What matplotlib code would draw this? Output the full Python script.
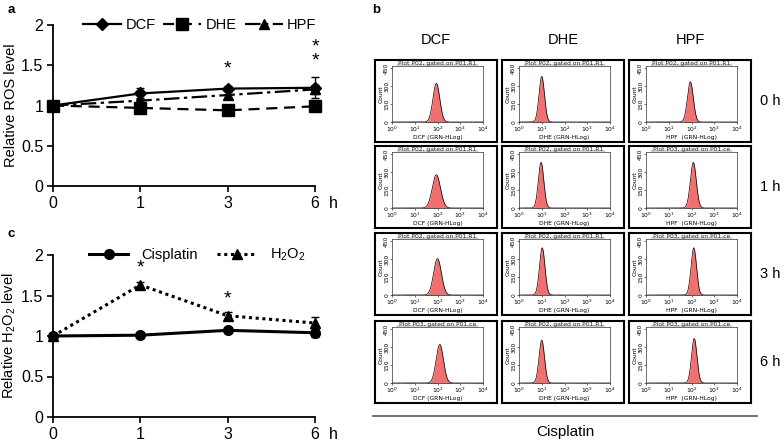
import matplotlib
matplotlib.use("Agg")
import matplotlib.pyplot as plt
from matplotlib.lines import Line2D
import numpy as np

plt.rcParams['font.family'] = ['Liberation Sans', 'DejaVu Sans']
plt.rcParams['mathtext.default'] = 'regular'

# ---- data ----
times = ['0', '1', '3', '6']

dcf = [1.0, 1.15, 1.21, 1.22]
dcf_err = [0.0, 0.07, 0.03, 0.13]
dhe = [1.0, 0.97, 0.94, 0.99]
dhe_err = [0.0, 0.03, 0.02, 0.02]
hpf = [1.0, 1.06, 1.13, 1.20]
hpf_err = [0.0, 0.03, 0.05, 0.06]
stars_a = [(2, 1.45, 1), (3, 1.64, 2)]   # x position, y, number of stars

cis = [1.0, 1.01, 1.07, 1.04]
cis_err = [0.02, 0.03, 0.02, 0.05]
h2o2 = [1.0, 1.63, 1.25, 1.16]
h2o2_err = [0.02, 0.04, 0.05, 0.08]
stars_c = [(1, 1.84, 1), (2, 1.46, 1)]

# flow cytometry panels: rows = time, cols = probe
probes = ['DCF', 'DHE', 'HPF']
row_labels = ['0 h', '1 h', '3 h', '6 h']
peak_log = [[1.95, 1.00, 1.95],
            [1.95, 0.97, 2.08],
            [2.00, 1.02, 2.10],
            [2.10, 1.00, 2.12]]
peak_frac = [[0.72, 0.85, 0.75],
             [0.62, 0.85, 0.85],
             [0.68, 0.88, 0.88],
             [0.72, 0.80, 0.83]]
peak_sd = [[0.15, 0.12, 0.13],
           [0.18, 0.12, 0.13],
           [0.17, 0.12, 0.12],
           [0.16, 0.12, 0.12]]
plot_titles = [['Plot P02, gated on P01.R1', 'Plot P02, gated on P01.R1', 'Plot P02, gated on P01.R1'],
               ['Plot P02, gated on P01.R1', 'Plot P02, gated on P01.R1', 'Plot P03, gated on P01.ce'],
               ['Plot P02, gated on P01.R1', 'Plot P02, gated on P01.R1', 'Plot P03, gated on P01.ce'],
               ['Plot P03, gated on P01.ce', 'Plot P02, gated on P01.R1', 'Plot P03, gated on P01.ce']]
x_labels = ['DCF (GRN-HLog)', 'DHE (GRN-HLog)', 'HPF  (GRN-HLog)']

W, H = 784, 443
fig = plt.figure(figsize=(W / 100, H / 100), dpi=100)


def box(x0, y0, x1, y1):
    return [x0 / W, 1 - y1 / H, (x1 - x0) / W, (y1 - y0) / H]


def style_line_axes(ax):
    ax.set_xlim(0, 3)
    ax.set_ylim(0, 2)
    ax.set_xticks(range(4))
    ax.set_xticklabels(times)
    ax.set_yticks([0, 0.5, 1, 1.5, 2])
    ax.set_yticklabels(['0', '0.5', '1', '1.5', '2'])
    for s in ['top', 'right']:
        ax.spines[s].set_visible(False)
    ax.spines['left'].set_linewidth(1.3)
    ax.spines['bottom'].set_linewidth(1.3)
    ax.tick_params(labelsize=11.5, length=4, width=1.2, pad=3)
    ax.annotate('h', xy=(3, 0), xycoords='data', xytext=(13, -7),
                textcoords='offset points', fontsize=11.5, ha='center', va='top')
    ax.yaxis.set_label_coords(-0.132, 0.5)


def series(ax, vals, errs, label, **kw):
    ax.errorbar(x, vals, yerr=errs, fmt='none', ecolor='black', elinewidth=1,
                capsize=3, clip_on=False, zorder=2)
    ax.plot(x, vals, color='black', label=label, clip_on=False, zorder=3, **kw)


def stars(ax, marks):
    for sx, sy, n in marks:
        ax.text(sx, sy, '\n'.join(['*'] * n), ha='center', va='center',
                fontsize=14, linespacing=0.75)


x = np.arange(4)

# ---- panel a ----
ax_a = fig.add_axes(box(53, 25, 315, 186))
series(ax_a, dcf, dcf_err, 'DCF', lw=1.6, marker='D', ms=6)
series(ax_a, dhe, dhe_err, 'DHE', lw=1.6, ls=(0, (5, 3)), marker='s', ms=8)
series(ax_a, hpf, hpf_err, 'HPF', lw=1.6, ls=(0, (7, 2, 1.5, 2)), marker='^', ms=7)
stars(ax_a, stars_a)
style_line_axes(ax_a)
ax_a.set_ylabel('Relative ROS level', fontsize=10.5)
ax_a.legend(loc='center', bbox_to_anchor=(0.56, 1.0), ncol=3, frameon=False,
            fontsize=10.5, handlelength=2.6, handletextpad=0.3, columnspacing=0.55,
            borderaxespad=0)

# ---- panel c ----
ax_c = fig.add_axes(box(53, 255, 315, 417))
series(ax_c, cis, cis_err, 'Cisplatin', lw=2.2, marker='o', ms=7)
series(ax_c, h2o2, h2o2_err, 'H$_2$O$_2$', lw=2.2, ls=(0, (1, 1.2)), marker='^', ms=7)
stars(ax_c, stars_c)
style_line_axes(ax_c)
ax_c.set_ylabel('Relative H$_2$O$_2$ level', fontsize=10.5)
ax_c.legend(loc='center', bbox_to_anchor=(0.55, 1.0), ncol=2, frameon=False,
            fontsize=10.5, handlelength=2.7, handletextpad=0.9, columnspacing=1.3,
            borderaxespad=0)

# ---- panel b ----
col_x = [375, 502, 629]
row_y = [60, 146, 233, 321]
col_cx = [436, 563, 690]
xs = np.linspace(0, 4, 400)
for c, name in enumerate(probes):
    fig.text(col_cx[c] / W, 1 - 40 / H, name, ha='center', va='center', fontsize=10.5)
for r, lab in enumerate(row_labels):
    fig.text(770 / W, 1 - (row_y[r] + 41) / H, lab, ha='center', va='center', fontsize=10.5)

for r in range(4):
    for c in range(3):
        fx, fy = col_x[c], row_y[r]
        frame = fig.add_axes(box(fx, fy, fx + 122, fy + 82))
        frame.set_xticks([])
        frame.set_yticks([])
        for s in frame.spines.values():
            s.set_linewidth(1.5)
        frame.patch.set_alpha(0)

        ax = fig.add_axes(box(fx + 17, fy + 6, fx + 108, fy + 62))
        ys = 450 * peak_frac[r][c] * np.exp(-0.5 * ((xs - peak_log[r][c]) / peak_sd[r][c]) ** 2)
        ax.fill_between(10 ** xs, ys, color='#f26f6f', lw=0)
        ax.plot(10 ** xs, ys, color='black', lw=0.5)
        ax.set_xscale('log')
        ax.set_xlim(1, 1e4)
        ax.set_ylim(0, 470)
        ax.set_xticks([1, 10, 100, 1000, 10000])
        ax.set_xticklabels(['$10^{%d}$' % k for k in range(5)])
        ax.set_yticks([0, 150, 300, 450])
        ax.set_yticklabels(['0', '150', '300', '450'], rotation=90, va='center')
        ax.tick_params(labelsize=4.3, length=1.5, width=0.4, pad=0.5)
        ax.tick_params(which='minor', length=0.8, width=0.3)
        for s in ax.spines.values():
            s.set_linewidth(0.5)
            s.set_color('#333333')
        ax.set_xlabel(x_labels[c], fontsize=4.3, labelpad=0.5, family='DejaVu Sans')
        ax.set_ylabel('Count', fontsize=4.3, labelpad=0.5, family='DejaVu Sans')
        for t in ax.get_xticklabels() + ax.get_yticklabels():
            t.set_family('DejaVu Sans')
        ax.set_title(plot_titles[r][c], fontsize=4.3, pad=1, family='DejaVu Sans',
                     color='#222222')
        ax.add_line(Line2D([0.06, 0.94], [1.02, 1.02], transform=ax.transAxes,
                           color='#222222', lw=0.3, clip_on=False))

fig.add_artist(Line2D([373 / W, 757 / W], [1 - 416 / H] * 2, color='#555555', lw=1.2))
fig.text(565 / W, 1 - 432 / H, 'Cisplatin', ha='center', va='center', fontsize=11)

# panel letters
fig.text(8 / W, 1 - 10 / H, 'a', fontsize=9.5, fontweight='bold', va='center')
fig.text(372 / W, 1 - 10 / H, 'b', fontsize=9.5, fontweight='bold', va='center')
fig.text(8 / W, 1 - 234 / H, 'c', fontsize=9.5, fontweight='bold', va='center')

fig.savefig('out.png', dpi=100)
